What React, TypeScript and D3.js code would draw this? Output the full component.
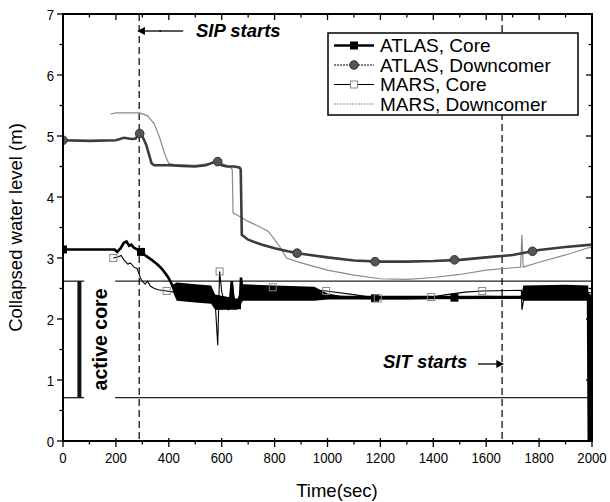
import React from 'react';
import * as d3 from 'd3';

const xTickValues = [0, 200, 400, 600, 800, 1000, 1200, 1400, 1600, 1800, 2000];
const yTickValues = [0, 1, 2, 3, 4, 5, 6, 7];
const legendLabels = ['ATLAS, Core', 'ATLAS, Downcomer', 'MARS, Core', 'MARS, Downcomer'];

const atlasCore: [number, number][] = [
  [0, 3.14], [195, 3.14], [205, 3.1], [218, 3.16], [230, 3.25], [240, 3.27], [250, 3.2], [258, 3.22],
  [268, 3.17], [280, 3.14], [295, 3.1], [315, 3.03], [335, 2.97], [355, 2.9], [370, 2.84], [385, 2.76],
  [398, 2.68], [408, 2.6], [418, 2.5], [440, 2.45], [480, 2.4], [520, 2.38], [560, 2.35], [575, 2.25],
  [600, 2.2], [630, 2.2], [638, 2.62], [645, 2.2], [668, 2.18], [673, 2.68], [680, 2.4], [700, 2.42],
  [800, 2.41], [900, 2.4], [1000, 2.37], [1100, 2.35], [1200, 2.34], [1300, 2.34], [1400, 2.35],
  [1500, 2.35], [1600, 2.36], [1733, 2.35], [1738, 2.42], [1800, 2.43], [1900, 2.42], [1985, 2.42],
  [1988, 0], [1992, 0], [1992, 2.4],
];

// noisy envelope of ATLAS core: time, low, high
const atlasCoreBand: [number, number, number][] = [
  [415, 2.45, 2.56], [430, 2.3, 2.6], [500, 2.27, 2.57], [560, 2.25, 2.55], [575, 2.15, 2.4],
  [660, 2.15, 2.33], [680, 2.3, 2.57], [800, 2.3, 2.55], [950, 2.3, 2.53], [1000, 2.32, 2.42],
  [1050, 2.32, 2.38], [1700, 2.33, 2.38], [1733, 2.33, 2.38], [1740, 2.3, 2.55], [1900, 2.3, 2.56],
  [1986, 2.3, 2.55],
];

const atlasCoreMarkers: [number, number][] = [
  [0, 3.14], [295, 3.1], [590, 2.22], [885, 2.4], [1180, 2.34], [1480, 2.35], [1775, 2.42],
];

const atlasDowncomer: [number, number][] = [
  [0, 4.93], [100, 4.92], [200, 4.93], [230, 4.97], [260, 4.95], [275, 4.96], [285, 5.03], [295, 5.04],
  [305, 4.95], [315, 4.85], [325, 4.7], [335, 4.55], [345, 4.52], [400, 4.52], [450, 4.51], [500, 4.5],
  [540, 4.52], [565, 4.56], [585, 4.58], [600, 4.52], [620, 4.5], [650, 4.5], [668, 4.48], [672, 4.45],
  [676, 3.38], [700, 3.3], [750, 3.22], [800, 3.16], [850, 3.11], [900, 3.07], [1000, 3.01], [1100, 2.96],
  [1200, 2.94], [1300, 2.94], [1400, 2.95], [1500, 2.97], [1600, 3.01], [1700, 3.05], [1750, 3.09],
  [1800, 3.13], [1900, 3.18], [2000, 3.22],
];

const atlasDowncomerMarkers: [number, number][] = [
  [0, 4.93], [290, 5.04], [585, 4.58], [885, 3.08], [1180, 2.94], [1480, 2.97], [1775, 3.11],
];

const marsCore: [number, number][] = [
  [190, 3.0], [210, 3.02], [220, 3.04], [230, 2.97], [245, 2.9], [255, 2.92], [268, 2.85], [280, 2.83],
  [295, 2.65], [310, 2.57], [320, 2.62], [330, 2.54], [345, 2.5], [360, 2.48], [392, 2.46], [450, 2.42],
  [500, 2.4], [560, 2.35], [575, 2.3], [585, 1.57], [592, 2.78], [600, 2.45], [615, 2.2], [625, 2.15],
  [640, 2.6], [650, 2.25], [670, 2.35], [700, 2.5], [793, 2.52], [900, 2.5], [995, 2.46], [1100, 2.4],
  [1190, 2.34], [1300, 2.35], [1392, 2.36], [1450, 2.4], [1520, 2.44], [1585, 2.46], [1733, 2.47],
  [1735, 2.15], [1745, 2.4], [1850, 2.42], [2000, 2.43],
];

const marsCoreMarkers: [number, number][] = [
  [190, 3.0], [392, 2.46], [592, 2.78], [793, 2.52], [995, 2.46], [1190, 2.34], [1392, 2.36], [1585, 2.46],
];

const marsDowncomer: [number, number][] = [
  [180, 5.36], [200, 5.38], [290, 5.38], [320, 5.33], [345, 5.2], [365, 4.98], [385, 4.7], [400, 4.55],
  [420, 4.53], [500, 4.52], [560, 4.55], [580, 4.62], [600, 4.55], [630, 4.5], [640, 4.45], [643, 3.74],
  [660, 3.7], [700, 3.6], [740, 3.52], [775, 3.44], [800, 3.3], [820, 3.18], [845, 3.0], [900, 2.92],
  [1000, 2.8], [1100, 2.72], [1200, 2.66], [1300, 2.65], [1400, 2.68], [1500, 2.73], [1600, 2.8],
  [1700, 2.84], [1730, 2.85], [1735, 3.38], [1740, 2.85], [1800, 2.93], [1900, 3.05], [1980, 3.16],
  [2000, 3.18],
];

const sipTime = 288;
const sitTime = 1660;
const activeCoreTop = 2.62;
const activeCoreBottom = 0.71;
const refLineStart = 197;
const activeCoreBarTime = 62;
const activeCoreCapEnd = 80;

const FONT = '"Liberation Sans", Arial, Helvetica, sans-serif';

export default function App() {
  const W = 610, H = 502;
  const left = 63, right = 592, top = 14, bottom = 441;
  const x = d3.scaleLinear().domain([0, 2000]).range([left, right]);
  const y = d3.scaleLinear().domain([0, 7]).range([bottom, top]);
  const line = d3.line<[number, number]>().x(d => x(d[0])).y(d => y(d[1]));
  const band = d3.area<[number, number, number]>().x(d => x(d[0])).y0(d => y(d[1])).y1(d => y(d[2]));

  const xMinor = d3.range(0, 2001, 100);
  const yMinor = d3.range(0, 7.01, 0.5);

  const legX = 328, legY = 33, legW = 250, rowH = 19.5;

  return (
    <svg width={W} height={H} style={{ position: 'absolute', left: 0, top: 0, background: '#fff' }} fontFamily={FONT}>
      <defs>
        <clipPath id="plotclip">
          <rect x={left} y={top} width={right - left} height={bottom - top} />
        </clipPath>
        <marker id="arrowL" viewBox="0 0 10 10" refX="1" refY="5" markerWidth="6" markerHeight="6" orient="auto-start-reverse">
          <path d="M0,0 L10,5 L0,10 z" fill="#000" />
        </marker>
      </defs>
      <rect x={0} y={0} width={W} height={H} fill="#fff" />

      <g clipPath="url(#plotclip)">
        <line x1={x(refLineStart)} x2={x(2000)} y1={y(activeCoreTop)} y2={y(activeCoreTop)} stroke="#222" strokeWidth={1.3} />
        <line x1={x(refLineStart)} x2={x(2000)} y1={y(activeCoreBottom)} y2={y(activeCoreBottom)} stroke="#222" strokeWidth={1.3} />
        <line x1={x(sipTime)} x2={x(sipTime)} y1={top} y2={bottom} stroke="#000" strokeWidth={1.2} strokeDasharray="7,4" />
        <line x1={x(sitTime)} x2={x(sitTime)} y1={top} y2={bottom} stroke="#000" strokeWidth={1.2} strokeDasharray="7,4" />

        <path d={line(marsDowncomer) || ''} fill="none" stroke="#8a8a8a" strokeWidth={1.2} />
        <path d={line(atlasDowncomer) || ''} fill="none" stroke="#3c3c3c" strokeWidth={2.6} />
        {atlasDowncomerMarkers.map((d, i) => (
          <circle key={i} cx={x(d[0])} cy={y(d[1])} r={4.3} fill="#555" stroke="#333" strokeWidth={1} />
        ))}
        <path d={band(atlasCoreBand) || ''} fill="#000" />
        <path d={line(atlasCore) || ''} fill="none" stroke="#000" strokeWidth={2.6} />
        {atlasCoreMarkers.map((d, i) => (
          <rect key={i} x={x(d[0]) - 4} y={y(d[1]) - 4} width={8} height={8} fill="#000" />
        ))}
        <path d={line(marsCore) || ''} fill="none" stroke="#000" strokeWidth={1.1} />
        {marsCoreMarkers.map((d, i) => (
          <rect key={i} x={x(d[0]) - 3.5} y={y(d[1]) - 3.5} width={7} height={7} fill="none" stroke="#888" strokeWidth={1} />
        ))}

        <line x1={x(0)} x2={x(activeCoreCapEnd)} y1={y(activeCoreTop)} y2={y(activeCoreTop)} stroke="#222" strokeWidth={1.3} />
        <line x1={x(0)} x2={x(activeCoreCapEnd)} y1={y(activeCoreBottom)} y2={y(activeCoreBottom)} stroke="#222" strokeWidth={1.3} />
        <line x1={x(activeCoreBarTime)} x2={x(activeCoreBarTime)} y1={y(activeCoreTop)} y2={y(activeCoreBottom)} stroke="#111" strokeWidth={4} />
      </g>

      <rect x={left} y={top} width={right - left} height={bottom - top} fill="none" stroke="#000" strokeWidth={2} />

      {xMinor.map((t, i) => {
        const major = t % 200 === 0;
        const len = major ? 6 : 3.5;
        return (
          <g key={'xt' + i} stroke="#000" strokeWidth={1.3}>
            <line x1={x(t)} x2={x(t)} y1={bottom - (major ? 3 : 0)} y2={bottom + len} />
            <line x1={x(t)} x2={x(t)} y1={top} y2={top + len} />
          </g>
        );
      })}
      {yMinor.map((v, i) => {
        const major = Math.abs(v - Math.round(v)) < 1e-6;
        const len = major ? 6 : 3.5;
        return (
          <g key={'yt' + i} stroke="#000" strokeWidth={1.3}>
            <line x1={left - len} x2={left} y1={y(v)} y2={y(v)} />
            <line x1={right - len} x2={right} y1={y(v)} y2={y(v)} />
          </g>
        );
      })}
      {xTickValues.map((t, i) => (
        <text key={'xl' + i} transform={`translate(${x(t)},${bottom + 22}) scale(0.88,1)`} fontSize={15} textAnchor="middle">{t}</text>
      ))}
      {yTickValues.map((v, i) => (
        <text key={'yl' + i} transform={`translate(${left - 9},${y(v) + 5.5}) scale(0.88,1)`} fontSize={15} textAnchor="end">{v}</text>
      ))}

      <text x={337} y={497} fontSize={18.5} textAnchor="middle">Time(sec)</text>
      <text transform={`translate(22,${(top + bottom) / 2}) rotate(-90)`} fontSize={18.5} textAnchor="middle">Collapsed water level (m)</text>

      <line x1={x(sipTime) + 22} x2={x(sipTime) + 5} y1={31} y2={31} stroke="#000" strokeWidth={1.3} markerEnd="url(#arrowL)" />
      <line x1={x(sipTime) + 44} x2={x(sipTime) + 20} y1={31} y2={31} stroke="#000" strokeWidth={1.3} />
      <text x={196} y={37} fontSize={18.5} fontWeight="bold" fontStyle="italic">SIP starts</text>
      <text x={383} y={368} fontSize={18.5} fontWeight="bold" fontStyle="italic">SIT starts</text>
      <line x1={478} x2={x(sitTime) - 5} y1={364} y2={364} stroke="#000" strokeWidth={1.3} markerEnd="url(#arrowL)" />
      <text transform={`translate(107,${(y(activeCoreTop) + y(activeCoreBottom)) / 2}) rotate(-90)`} fontSize={19.5} fontWeight="bold" textAnchor="middle">active core</text>

      <g>
        <rect x={legX} y={legY} width={legW} height={rowH * 4 + 4} fill="#fff" stroke="#000" strokeWidth={1.5} />
        {legendLabels.map((lab, i) => {
          const cy = legY + 12.5 + i * rowH;
          const x1 = legX + 6, x2 = legX + 46, mx = (x1 + x2) / 2;
          return (
            <g key={lab}>
              {i === 0 && <line x1={x1} x2={x2} y1={cy} y2={cy} stroke="#000" strokeWidth={2.4} />}
              {i === 0 && <rect x={mx - 4} y={cy - 4} width={8} height={8} fill="#000" />}
              {i === 1 && <line x1={x1} x2={x2} y1={cy} y2={cy} stroke="#555" strokeWidth={1.3} strokeDasharray="2,1" />}
              {i === 1 && <circle cx={mx} cy={cy} r={4.3} fill="#555" stroke="#333" />}
              {i === 2 && <line x1={x1} x2={x2} y1={cy} y2={cy} stroke="#000" strokeWidth={1.1} />}
              {i === 2 && <rect x={mx - 3.5} y={cy - 3.5} width={7} height={7} fill="#fff" stroke="#888" />}
              {i === 3 && <line x1={x1} x2={x2} y1={cy} y2={cy} stroke="#8a8a8a" strokeWidth={1.2} strokeDasharray="2,1" />}
              <text x={legX + 52} y={cy + 6.5} fontSize={19}>{lab}</text>
            </g>
          );
        })}
      </g>
    </svg>
  );
}
